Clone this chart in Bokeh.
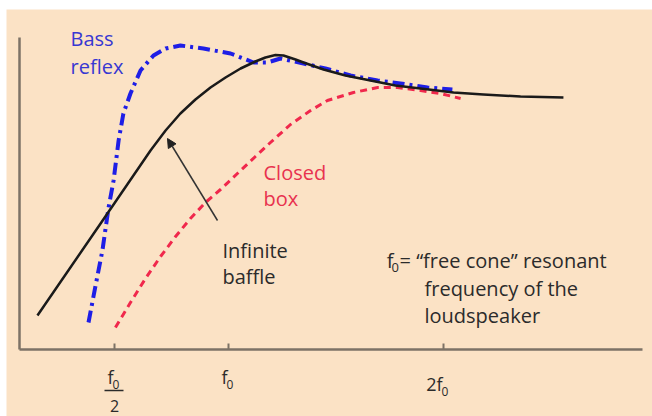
from bokeh.plotting import figure
from bokeh.models import Range1d, Arrow, NormalHead
from bokeh.core.properties import value
from bokeh.embed import file_html
from bokeh.resources import INLINE

# ---- data (frequency in units of f0, response in arbitrary units) ----
freq_ib = [0.162, 0.439, 0.658, 0.724, 0.789, 0.855, 0.921, 0.987, 1.053, 1.118,
           1.162, 1.206, 1.241, 1.294, 1.329, 1.417, 1.513, 1.623, 1.732, 1.842,
           1.987, 2.118, 2.281, 2.469]
resp_ib = [34, 126, 199, 219, 236, 250, 262, 272, 281, 288,
           292, 294.5, 294, 290, 287, 280, 274, 269, 264, 261,
           257, 255, 253, 252]

freq_br = [0.386, 0.417, 0.447, 0.474, 0.496, 0.518, 0.539, 0.570, 0.614, 0.671,
           0.724, 0.789, 0.890, 1.009, 1.110, 1.171, 1.228, 1.329, 1.425, 1.535,
           1.654, 1.754, 1.873, 1.982]
resp_br = [27, 64, 99, 142, 169, 209, 236, 256, 279, 294,
           301, 304, 301, 296, 287, 287, 291, 286, 281, 274,
           269, 266, 262, 260]

freq_cb = [0.504, 0.570, 0.636, 0.702, 0.768, 0.833, 0.899, 0.965, 1.039, 1.118,
           1.184, 1.272, 1.360, 1.434, 1.548, 1.654, 1.741, 1.842, 1.930, 2.018]
resp_cb = [22, 47, 71, 93, 113, 131, 147, 160, 176, 193,
           207, 225, 239, 249, 257, 262, 262, 259, 256, 251]

tick_vals = [0.5, 1.0, 1.943]
tick_main = ["f", "f", "2f"]
tick_sub = ["0", "0", "0"]

BG = "#fbe2c5"
AXIS = "#7d7266"
FONT = "Open Sans"

p = figure(width=652, height=416, output_backend="svg", toolbar_location=None,
           x_range=Range1d(6 / 228, 652 / 228), y_range=Range1d(-67, 340),
           x_axis_location=None, y_axis_location=None,
           min_border_left=6, min_border_top=9, min_border_right=0, min_border_bottom=0,
           background_fill_color=BG, border_fill_color="white", outline_line_color=None)
p.grid.visible = False

px = 1 / 228.0  # one pixel in x data units

# axes
p.segment(x0=[19 * px, 19 * px], y0=[0, 0], x1=[19 * px, 642 * px], y1=[312, 0],
          line_color=AXIS, line_width=2.5)
p.segment(x0=tick_vals, y0=[0] * 3, x1=tick_vals, y1=[6] * 3, line_color=AXIS, line_width=2)

# curves
p.line(freq_cb, resp_cb, line_color="#f0284c", line_width=3, line_dash="7 5")
p.line(freq_br, resp_br, line_color="#1e1ee6", line_width=4, line_dash="12 5 3 5")
p.line(freq_ib, resp_ib, line_color="#1a1a1a", line_width=2.5, line_join="round")

# arrow
p.add_layout(Arrow(end=NormalHead(size=9, fill_color="#222222", line_color="#222222"),
                   x_start=217 * px, y_start=129, x_end=167 * px, y_end=211,
                   line_color="#333333", line_width=1.5))


def txt(x, y, s, size, color, align="left"):
    p.text(x=[x], y=[y], text=[s], text_font=value(FONT), text_font_size=f"{size}px",
           text_color=color, text_align=align, text_baseline="alphabetic")


BLUE_T = "#3737d2"
RED_T = "#e8324f"
DARK = "#2b2b2b"

txt(70 * px, 311, "Bass", 20, BLUE_T)
txt(70 * px, 283, "reflex", 20, BLUE_T)
txt(263 * px, 177, "Closed", 20, RED_T)
txt(263 * px, 151, "box", 20, RED_T)
txt(222 * px, 99, "Infinite", 20, DARK)
txt(222 * px, 73, "baffle", 20, DARK)

# note
txt(393 * px, 89, "f", 20, DARK, "right")
txt(391 * px, 82, "0", 13, DARK)
txt(399 * px, 89, "= \u201cfree cone\u201d resonant", 20, DARK)
txt(424 * px, 61, "frequency of the", 20, DARK)
txt(424 * px, 34, "loudspeaker", 20, DARK)

# tick labels
base = [-27, -27, -34]
for tv, m, s, b in zip(tick_vals, tick_main, tick_sub, base):
    txt(tv - 1 * px, b, m, 18, DARK, "right")
    txt(tv - 2 * px, b - 8, s, 12, DARK)
p.segment(x0=[104 * px], y0=[-41], x1=[123 * px], y1=[-41], line_color=DARK, line_width=1.5)
txt(0.5, -56, "2", 16, DARK, "center")

open("out.html", "w").write(file_html(p, INLINE))
